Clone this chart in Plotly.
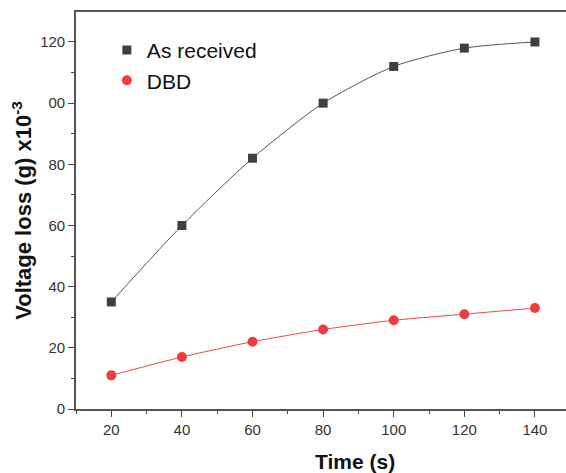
import plotly.graph_objects as go

time_s = [20, 40, 60, 80, 100, 120, 140]
as_received = [35, 60, 82, 100, 112, 118, 120]
dbd = [11, 17, 22, 26, 29, 31, 33]

y_tick_vals = [0, 20, 40, 60, 80, 100, 120]
y_tick_text = ["0", "20", "40", "60", "80", "00", "120"]
x_tick_vals = [20, 40, 60, 80, 100, 120, 140]

fig = go.Figure()
fig.add_trace(go.Scatter(
    x=time_s, y=as_received, mode="lines", showlegend=False, hoverinfo="skip",
    line=dict(color="#555555", width=1, shape="spline", smoothing=0.7),
))
fig.add_trace(go.Scatter(
    x=time_s, y=dbd, mode="lines", showlegend=False, hoverinfo="skip",
    line=dict(color="#f04848", width=1, shape="spline", smoothing=0.7),
))
fig.add_trace(go.Scatter(
    x=time_s, y=as_received, name="As received", mode="markers",
    marker=dict(symbol="square", size=9, color="#404040"),
))
fig.add_trace(go.Scatter(
    x=time_s, y=dbd, name="DBD", mode="markers",
    marker=dict(symbol="circle", size=10, color="#f03c3c"),
))

axis_font = dict(family="Liberation Sans, Arial, sans-serif", size=15, color="#333333")
fig.update_layout(
    width=566, height=473,
    margin=dict(l=76, r=0, t=12, b=64),
    plot_bgcolor="white", paper_bgcolor="white",
    font=dict(family="Liberation Sans, Arial, sans-serif"),
    showlegend=True,
    legend=dict(x=0.063, y=0.955, xanchor="left", yanchor="top",
                font=dict(size=21, color="#111111"), bgcolor="rgba(0,0,0,0)",
                itemsizing="trace", tracegroupgap=0),
    xaxis=dict(
        range=[10, 148.8], tickvals=x_tick_vals, ticks="outside", ticklen=6,
        tickwidth=1.2, tickcolor="#444444", showline=True, linecolor="#555555",
        linewidth=1.6, mirror=True, showgrid=False, zeroline=False,
        tickfont=axis_font,
        minor=dict(dtick=10, tick0=10, ticks="outside", ticklen=3, tickcolor="#444444"),
    ),
    yaxis=dict(
        range=[0, 129.8], tickvals=y_tick_vals, ticktext=y_tick_text,
        ticks="outside", ticklen=6, tickwidth=1.2, tickcolor="#444444",
        showline=True, linecolor="#555555", linewidth=1.6, showgrid=False,
        zeroline=False, tickfont=axis_font,
        minor=dict(dtick=10, tick0=0, ticks="outside", ticklen=3, tickcolor="#444444"),
        title=dict(text="<b>Voltage loss (g) x10<sup>-3</sup></b>",
                   font=dict(size=22, color="#111111"), standoff=2),
    ),
)
fig.add_annotation(
    text="<b>Time (s)</b>", xref="paper", yref="paper",
    x=(355 - 76) / 490, y=-0.133, xanchor="center", yanchor="middle",
    showarrow=False, font=dict(size=21, color="#111111"),
)

fig.write_html("out.html")
